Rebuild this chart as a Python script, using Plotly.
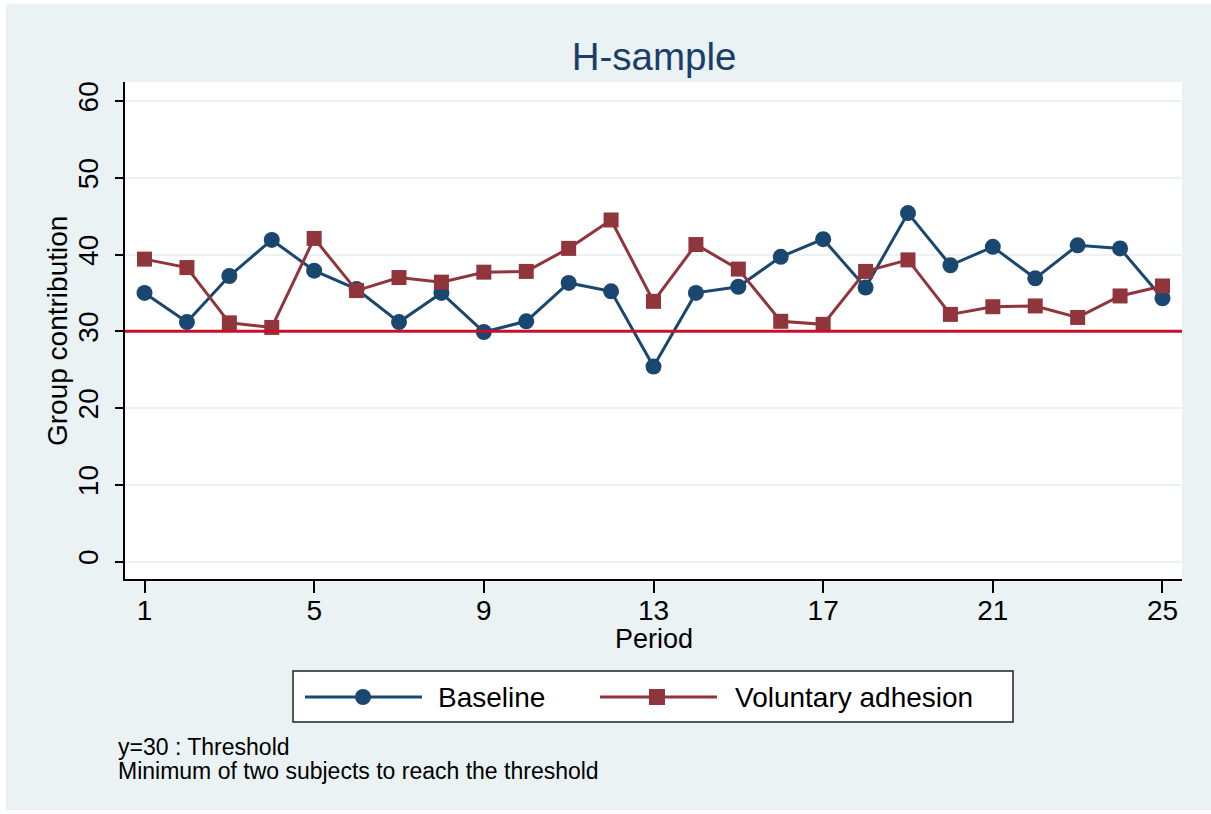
import plotly.graph_objects as go

# Group contribution per period for the H-sample
periods = list(range(1, 26))
baseline = [35.0, 31.2, 37.2, 41.9, 37.9, 35.5, 31.2, 35.0, 29.9, 31.3,
            36.3, 35.2, 25.4, 35.0, 35.8, 39.7, 42.0, 35.7, 45.4, 38.6,
            41.0, 36.9, 41.2, 40.8, 34.3]
voluntary = [39.4, 38.3, 31.1, 30.5, 42.1, 35.3, 37.0, 36.4, 37.7, 37.8,
             40.8, 44.5, 33.9, 41.3, 38.1, 31.3, 30.9, 37.8, 39.3, 32.2,
             33.2, 33.3, 31.8, 34.6, 35.9]
threshold = 30
x_ticks = [1, 5, 9, 13, 17, 21, 25]
y_ticks = [0, 10, 20, 30, 40, 50, 60]
series_names = ["Baseline", "Voluntary adhesion"]
notes = ["y=30 : Threshold", "Minimum of two subjects to reach the threshold"]

NAVY = "#1A476F"
MAROON = "#90353B"
RED = "#C8102E"
BG = "#EAF2F3"
FONT = "Arial, Liberation Sans, sans-serif"

W, H = 1211, 814
L, R, T, B = 125, 1182, 82, 579   # plot area in pixels


def px(xp):
    return (xp - L) / (R - L)


def py(yp):
    return (B - yp) / (B - T)


fig = go.Figure()
fig.add_trace(go.Scatter(
    x=periods, y=baseline, mode="lines+markers", name=series_names[0],
    line=dict(color=NAVY, width=3),
    marker=dict(symbol="circle", size=16, color=NAVY),
    showlegend=False))
fig.add_trace(go.Scatter(
    x=periods, y=voluntary, mode="lines+markers", name=series_names[1],
    line=dict(color=MAROON, width=3),
    marker=dict(symbol="square", size=15, color=MAROON),
    showlegend=False))

shapes = []
# threshold line
shapes.append(dict(type="line", xref="paper", yref="y", x0=0, x1=1,
                   y0=threshold, y1=threshold,
                   line=dict(color=RED, width=3), layer="above"))
# thin white outer border of the graph region
for x0, y0, x1, y1 in [(0, 0, W, 4), (0, 0, 6, H), (0, 810, W, H)]:
    shapes.append(dict(type="rect", xref="paper", yref="paper",
                       x0=px(x0), x1=px(x1), y0=py(y1), y1=py(y0),
                       fillcolor="white", line=dict(width=0), layer="above"))

# legend box
lb = dict(x0=293, x1=1013, y0=671, y1=722)
shapes.append(dict(type="rect", xref="paper", yref="paper",
                   x0=px(lb["x0"]), x1=px(lb["x1"]),
                   y0=py(lb["y1"]), y1=py(lb["y0"]),
                   fillcolor="white", line=dict(color="#222222", width=1.5)))
ly = 697
for (lx0, lx1, mx, color, sym) in [(305, 422, 363, NAVY, "circle"),
                                   (600, 717, 657, MAROON, "rect")]:
    shapes.append(dict(type="line", xref="paper", yref="paper",
                       x0=px(lx0), x1=px(lx1), y0=py(ly), y1=py(ly),
                       line=dict(color=color, width=3)))
    r = 8
    shapes.append(dict(type=sym, xref="paper", yref="paper",
                       x0=px(mx - r), x1=px(mx + r),
                       y0=py(ly + r), y1=py(ly - r),
                       fillcolor=color, line=dict(color=color, width=0)))

annotations = [
    dict(text="Group contribution", textangle=-90, xref="paper", yref="paper",
         x=px(57), y=py(331), xanchor="center", yanchor="middle",
         showarrow=False, font=dict(size=28, color="black", family=FONT)),
    dict(text="Period", xref="paper", yref="paper",
         x=px(654), y=py(639), xanchor="center", yanchor="middle",
         showarrow=False, font=dict(size=27, color="black", family=FONT)),
    dict(text=series_names[0], xref="paper", yref="paper",
         x=px(436), y=py(ly), xanchor="left", yanchor="middle",
         showarrow=False, font=dict(size=28, color="black", family=FONT)),
    dict(text=series_names[1], xref="paper", yref="paper",
         x=px(733), y=py(ly), xanchor="left", yanchor="middle",
         showarrow=False, font=dict(size=28, color="black", family=FONT)),
]
for i, note in enumerate(notes):
    annotations.append(dict(text=note, xref="paper", yref="paper",
                            x=px(116), y=py(747 + 24 * i),
                            xanchor="left", yanchor="middle", showarrow=False,
                            font=dict(size=23, color="black", family=FONT)))

fig.update_layout(
    width=W, height=H,
    margin=dict(l=L, r=W - R, t=T, b=H - B, pad=0),
    paper_bgcolor=BG, plot_bgcolor="white",
    title=dict(text="H-sample", x=px(654), xref="paper", xanchor="center",
               y=1 - 57 / H, yref="container", yanchor="middle",
               font=dict(size=38.5, color="#1A3D6B", family=FONT)),
    font=dict(family=FONT, color="black"),
    shapes=shapes, annotations=annotations,
    showlegend=False,
)
fig.update_xaxes(range=[0.54, 25.46], tickvals=x_ticks,
                 showgrid=False, zeroline=False,
                 showline=True, linecolor="black", linewidth=1.5,
                 ticks="outside", ticklen=12, tickwidth=1.5, tickcolor="black",
                 tickfont=dict(size=28, color="black", family=FONT),
                 ticklabelstandoff=-6)
fig.update_yaxes(range=[-2.28, 62.48], tickvals=y_ticks,
                 showgrid=True, gridcolor=BG, gridwidth=2, zeroline=False,
                 showline=True, linecolor="black", linewidth=1.5,
                 ticks="outside", ticklen=8, tickwidth=1.5, tickcolor="black",
                 tickangle=-90,
                 tickfont=dict(size=28, color="black", family=FONT),
                 ticklabelstandoff=6)

fig.write_html("out.html")
